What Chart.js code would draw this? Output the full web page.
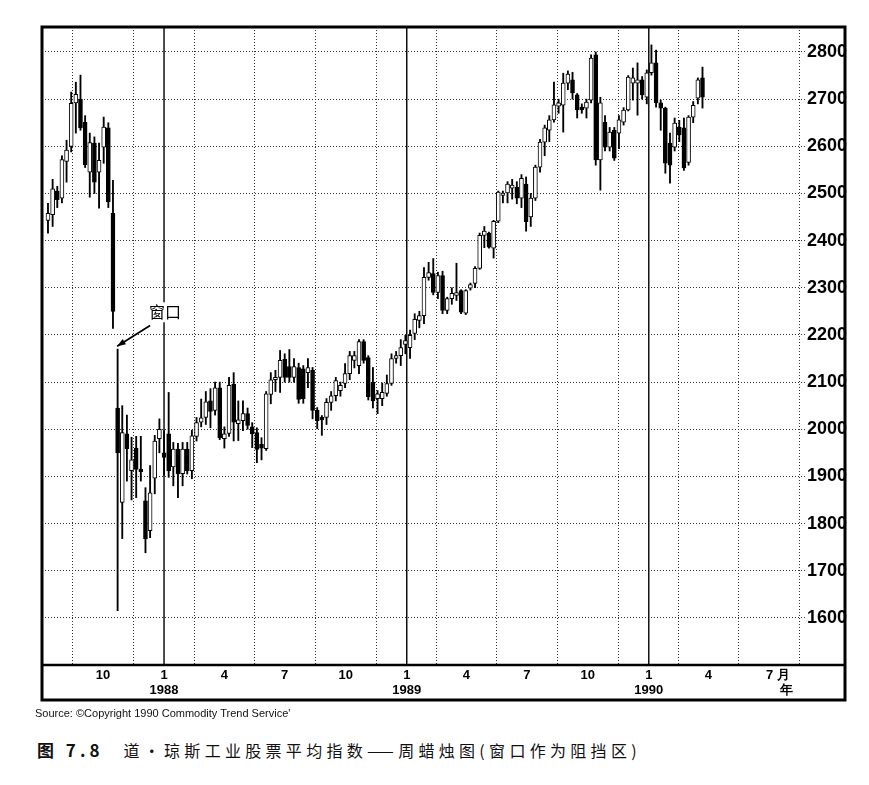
<!DOCTYPE html>
<html>
<head>
    <meta charset="utf-8">
    <title>道·琼斯工业股票平均指数——周蜡烛图</title>
    <style>
        body {
            margin: 0;
            background-color: #fff;
            width: 869px;
            height: 785px;
            overflow: hidden;
            position: relative;
        }
        #wrap {
            position: absolute;
            left: 0;
            top: 0;
            width: 869px;
            height: 710px;
        }
        .source {
            position: absolute;
            left: 35px;
            top: 707px;
            font: 11px "Liberation Sans", Arial, sans-serif;
            color: #111;
        }
        .caption {
            position: absolute;
            left: 37px;
            top: 737px;
            font: 16px "Noto Sans CJK SC", sans-serif;
            color: #111;
            letter-spacing: 4.3px;
            white-space: nowrap;
        }
        .caption b {
            font-size: 17px;
            letter-spacing: 4px;
            margin-right: 20px;
        }
    </style>
</head>
<body>
    <div id="wrap"><canvas id="candles"></canvas></div>
    <div class="source">Source: ©Copyright 1990 Commodity Trend Service'</div>
    <div class="caption"><b>图 7.8</b>道·琼斯工业股票平均指数——周蜡烛图(窗口作为阻挡区)</div>

    <script src="https://cdn.jsdelivr.net/npm/chart.js"></script>
    <script>
        // weekly bars, week 0 = week ending 10 Jul 1987
        const weekNo = [
            0, 1, 2, 3, 4, 5, 6, 7, 8, 9,
            10, 11, 12, 13, 14, 15, 16, 17, 18, 19,
            20, 21, 22, 23, 24, 25, 26, 27, 28, 29,
            30, 31, 32, 33, 34, 35, 36, 37, 38, 39,
            40, 41, 42, 43, 44, 45, 46, 47, 48, 49,
            50, 51, 52, 53, 54, 55, 56, 57, 58, 59,
            60, 61, 62, 63, 64, 65, 66, 67, 68, 69,
            70, 71, 72, 73, 74, 75, 76, 77, 78, 79,
            80, 81, 82, 83, 84, 85, 86, 87, 88, 89,
            90, 91, 92, 93, 94, 95, 96, 97, 98, 99,
            100, 101, 102, 103, 104, 105, 106, 107, 108, 109,
            110, 111, 112, 113, 114, 115, 116, 117, 118, 119,
            120, 121, 122, 123, 124, 125, 126, 127, 128, 129,
            130, 131, 132, 133, 134, 135, 136, 137, 138, 139,
            140, 141
        ];
        const opens = [
            2443, 2455, 2505, 2490, 2568, 2600, 2692, 2700, 2651, 2545,
            2607, 2545, 2598, 2639, 2458, 2045, 1845, 1990, 1912, 1960,
            1915, 1848, 1785, 1896, 1980, 1950, 1990, 1920, 1958, 1906,
            1958, 1912, 1985, 2015, 2025, 2060, 2040, 2088, 1980, 1991,
            2095, 2012, 2018, 2033, 2005, 1993, 1968, 1959, 2074, 2105,
            2110, 2148, 2133, 2110, 2131, 2128, 2120, 2125, 2040, 2025,
            2025, 2057, 2071, 2082, 2097, 2118, 2146, 2135, 2186, 2152,
            2100, 2065, 2065, 2076, 2097, 2150, 2156, 2180, 2173, 2203,
            2231, 2241, 2322, 2330, 2290, 2326, 2252, 2277, 2284, 2294,
            2246, 2299, 2309, 2341, 2411, 2416, 2384, 2441, 2496, 2501,
            2511, 2513, 2490, 2520, 2450, 2490, 2556, 2609, 2634, 2656,
            2685, 2687, 2734, 2741, 2709, 2683, 2681, 2698, 2794, 2571,
            2651, 2598, 2634, 2628, 2651, 2677, 2734, 2734, 2741, 2704,
            2756, 2777, 2692, 2681, 2607, 2598, 2641, 2639, 2566, 2662,
            2702, 2745
        ];
        const highs = [
            2479, 2530, 2515, 2580, 2613, 2715, 2736, 2751, 2665, 2628,
            2620, 2607, 2662, 2650, 2528, 2170, 2050, 2030, 1983, 1985,
            1985, 1876, 1923, 1987, 2022, 1997, 2078, 1972, 1970, 1972,
            1972, 1998, 2025, 2064, 2080, 2086, 2100, 2100, 2005, 2110,
            2120, 2060, 2060, 2045, 2014, 2003, 1982, 2080, 2120, 2125,
            2167, 2160, 2169, 2150, 2140, 2135, 2150, 2131, 2046, 2029,
            2065, 2080, 2110, 2100, 2139, 2165, 2165, 2190, 2190, 2156,
            2131, 2082, 2098, 2115, 2160, 2165, 2190, 2199, 2210, 2245,
            2250, 2343, 2354, 2362, 2333, 2335, 2280, 2300, 2352, 2296,
            2296, 2310, 2345, 2416, 2430, 2418, 2443, 2505, 2505, 2525,
            2530, 2525, 2540, 2535, 2500, 2560, 2615, 2645, 2665, 2736,
            2700, 2755, 2760, 2757, 2712, 2690, 2700, 2794, 2800, 2704,
            2665, 2640, 2640, 2665, 2682, 2750, 2766, 2777, 2748, 2762,
            2815, 2804, 2698, 2683, 2628, 2660, 2655, 2660, 2665, 2695,
            2745, 2768
        ];
        const lows = [
            2416, 2430, 2470, 2480, 2524, 2588, 2628, 2634, 2555, 2492,
            2500, 2469, 2564, 2470, 2214, 1615, 1768, 1890, 1850, 1855,
            1890, 1738, 1770, 1863, 1950, 1902, 1898, 1880, 1855, 1880,
            1905, 1895, 1975, 2005, 2010, 2003, 2030, 1978, 1960, 1985,
            1975, 1976, 1997, 2000, 1961, 1929, 1935, 1955, 2054, 2080,
            2078, 2100, 2100, 2100, 2055, 2055, 2088, 2022, 2001, 1987,
            2010, 2040, 2060, 2070, 2088, 2105, 2130, 2118, 2140, 2062,
            2045, 2033, 2050, 2070, 2093, 2140, 2135, 2160, 2150, 2190,
            2215, 2224, 2316, 2285, 2277, 2245, 2245, 2265, 2273, 2245,
            2243, 2295, 2300, 2339, 2385, 2384, 2363, 2438, 2480, 2480,
            2488, 2478, 2470, 2420, 2430, 2485, 2545, 2580, 2610, 2651,
            2670, 2630, 2720, 2700, 2660, 2670, 2660, 2692, 2560, 2507,
            2590, 2590, 2570, 2595, 2645, 2675, 2698, 2666, 2700, 2690,
            2751, 2683, 2634, 2543, 2522, 2590, 2610, 2549, 2560, 2650,
            2690, 2681
        ];
        const closes = [
            2458, 2510, 2487, 2572, 2592, 2691, 2710, 2639, 2561, 2608,
            2524, 2570, 2641, 2482, 2250, 1950, 1993, 1959, 1935, 1915,
            1910, 1768, 1865, 1975, 2000, 1940, 1912, 1958, 1905, 1958,
            1912, 1986, 2014, 2024, 2058, 2038, 2088, 1982, 1990, 2093,
            2015, 2020, 2033, 2008, 1990, 1957, 1960, 2075, 2105, 2110,
            2146, 2110, 2110, 2133, 2063, 2065, 2131, 2040, 2018, 2020,
            2057, 2071, 2103, 2093, 2118, 2156, 2156, 2186, 2146, 2069,
            2060, 2075, 2078, 2097, 2150, 2156, 2173, 2188, 2199, 2233,
            2241, 2322, 2332, 2290, 2326, 2252, 2277, 2288, 2290, 2248,
            2294, 2307, 2341, 2411, 2420, 2386, 2441, 2503, 2501, 2520,
            2518, 2490, 2532, 2440, 2490, 2556, 2609, 2639, 2656, 2688,
            2692, 2734, 2753, 2713, 2677, 2677, 2694, 2787, 2571, 2692,
            2598, 2630, 2575, 2656, 2677, 2747, 2745, 2741, 2709, 2756,
            2777, 2692, 2681, 2564, 2560, 2649, 2624, 2554, 2662, 2687,
            2741, 2704
        ];

        // month ticks along the bottom (in weeks from the first bar)
        const tickWeeks = [-1.29, 11.86, 25.0, 38.0, 51.0, 64.14, 77.29, 90.14, 103.14, 116.29, 129.43, 142.29, 155.29, 168.43];
        const tickLabels = ["", "10", ["1", "1988"], "4", "7", "10", ["1", "1989"], "4", "7", "10", ["1", "1990"], "4", ["     7 月", "          年"], ""];
        const yearWeeks = [25.0, 77.29, 129.43];

        // the "window" note and its arrow
        const windowNote = { text: "窗口", week: 25.2, value: 2248 };
        const windowArrow = { fromWeek: 22.0, fromValue: 2220, toWeek: 14.9, toValue: 2176 };

        const framePlugin = {
            id: "frame",
            beforeDatasetsDraw(chart) {
                const { ctx, chartArea, scales } = chart;
                ctx.save();
                ctx.strokeStyle = "#000";
                ctx.lineWidth = 1.4;
                yearWeeks.forEach(w => {
                    const x = scales.x.getPixelForValue(w);
                    ctx.beginPath();
                    ctx.moveTo(x, chartArea.top);
                    ctx.lineTo(x, chartArea.bottom);
                    ctx.stroke();
                });
                ctx.restore();
            },
            afterDraw(chart) {
                const { ctx, chartArea, scales } = chart;
                ctx.save();
                ctx.strokeStyle = "#000";
                ctx.lineWidth = 3;
                ctx.strokeRect(chartArea.left, chartArea.top, chartArea.right - chartArea.left, chartArea.bottom + 35 - chartArea.top);
                ctx.lineWidth = 2.5;
                ctx.beginPath();
                ctx.moveTo(chartArea.left, chartArea.bottom);
                ctx.lineTo(chartArea.right, chartArea.bottom);
                ctx.stroke();

                // note
                const tx = scales.x.getPixelForValue(windowNote.week);
                const ty = scales.y.getPixelForValue(windowNote.value);
                ctx.font = "16px 'Noto Sans CJK SC'";
                ctx.textAlign = "center";
                ctx.textBaseline = "middle";
                const tw = ctx.measureText(windowNote.text).width;
                ctx.fillStyle = "#fff";
                ctx.fillRect(tx - tw / 2 - 5, ty - 10, tw + 10, 20);
                ctx.fillStyle = "#000";
                ctx.fillText(windowNote.text, tx, ty);

                // arrow
                const x1 = scales.x.getPixelForValue(windowArrow.fromWeek);
                const y1 = scales.y.getPixelForValue(windowArrow.fromValue);
                const x2 = scales.x.getPixelForValue(windowArrow.toWeek);
                const y2 = scales.y.getPixelForValue(windowArrow.toValue);
                ctx.lineWidth = 1.8;
                ctx.beginPath();
                ctx.moveTo(x1, y1);
                ctx.lineTo(x2, y2);
                ctx.stroke();
                const ang = Math.atan2(y2 - y1, x2 - x1);
                ctx.beginPath();
                ctx.moveTo(x2, y2);
                ctx.lineTo(x2 - 9 * Math.cos(ang - 0.35), y2 - 9 * Math.sin(ang - 0.35));
                ctx.lineTo(x2 - 9 * Math.cos(ang + 0.35), y2 - 9 * Math.sin(ang + 0.35));
                ctx.closePath();
                ctx.fill();
                ctx.restore();
            }
        };

        const ctx = document.getElementById("candles");
        new Chart(ctx, {
            type: "bar",
            data: {
                datasets: [
                    {
                        label: "body",
                        data: weekNo.map((w, i) => ({ x: w, y: [opens[i], closes[i]] })),
                        backgroundColor: c => closes[c.dataIndex] >= opens[c.dataIndex] ? "#fff" : "#000",
                        borderColor: "#000",
                        borderWidth: 1,
                        borderSkipped: false,
                        barThickness: 4,
                        grouped: false,
                        order: 0
                    },
                    {
                        label: "wick",
                        data: weekNo.map((w, i) => ({ x: w, y: [lows[i], highs[i]] })),
                        backgroundColor: "#000",
                        barThickness: 1.2,
                        grouped: false,
                        order: 1
                    }
                ]
            },
            options: {
                responsive: true,
                maintainAspectRatio: false,
                animation: false,
                layout: {
                    padding: { left: 42, top: 27, right: 24, bottom: 10 }
                },
                plugins: {
                    legend: { display: false },
                    tooltip: { enabled: false }
                },
                scales: {
                    x: {
                        type: "linear",
                        min: -1.29,
                        max: 171.7,
                        offset: false,
                        afterBuildTicks: s => { s.ticks = tickWeeks.map(v => ({ value: v })); },
                        afterFit: s => { s.height = 35; },
                        ticks: {
                            autoSkip: false,
                            maxRotation: 0,
                            padding: 3,
                            color: "#000",
                            font: { family: "'Liberation Sans Narrow', 'Liberation Sans', Arial", size: 13, weight: "bold", lineHeight: 1.15 },
                            callback: (v, i) => tickLabels[i]
                        },
                        grid: { color: "#333", lineWidth: 1, drawTicks: false },
                        border: { display: false, dash: [1, 2] }
                    },
                    y: {
                        position: "right",
                        min: 1500,
                        max: 2853,
                        afterFit: s => { s.width = 0; },
                        ticks: {
                            stepSize: 50,
                            mirror: true,
                            padding: 2,
                            color: "#000",
                            font: { family: "'Liberation Sans', Arial", size: 18, weight: "bold" },
                            showLabelBackdrop: true,
                            backdropColor: "#fff",
                            backdropPadding: { left: 2, right: 0, top: 0, bottom: 0 },
                            callback: v => (v % 100 === 0 && v >= 1600 && v <= 2800) ? v : ""
                        },
                        grid: { color: "#333", lineWidth: 1, drawTicks: false },
                        border: { display: false, dash: [1, 2] }
                    }
                }
            },
            plugins: [framePlugin]
        });
    </script>
</body>
</html>
